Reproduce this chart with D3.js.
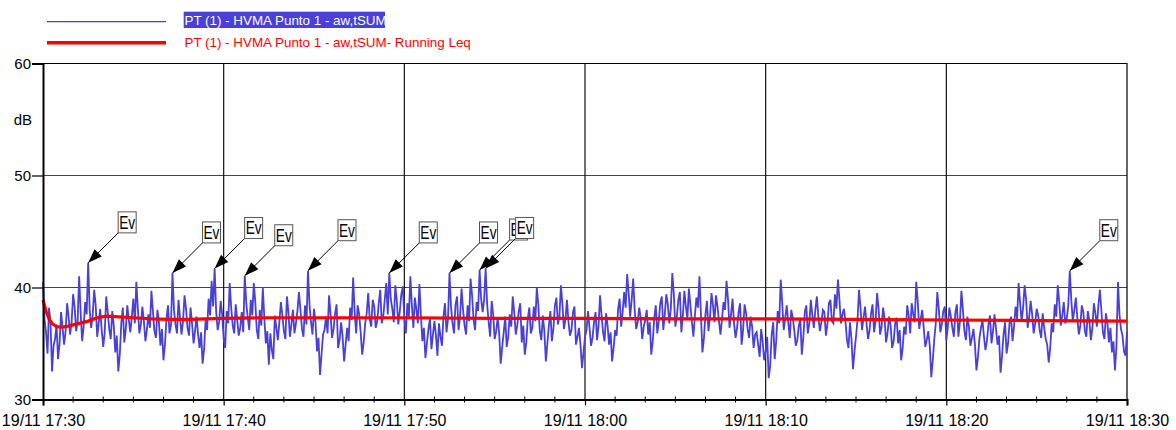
<!DOCTYPE html>
<html>
<head>
<meta charset="utf-8">
<script src="https://cdn.jsdelivr.net/npm/d3@7"></script>
<style>
body { margin: 0; background: #fff; }
svg { display: block; font-family: Arial, "Liberation Sans", sans-serif; }
</style>
</head>
<body>
<div id="chart"></div>
<script>
'use strict';

// series names as shown in the legend
var seriesNames = ['PT (1) - HVMA Punto 1 - aw,tSUM', 'PT (1) - HVMA Punto 1 - aw,tSUM- Running Leq'];

// blue trace (dB): one value on every 10 s mark ...
var startTime = new Date(2019, 10, 19, 17, 30, 0);
var stepSeconds = 10;
var levels1730 = [40.5, 36.0, 38.2, 32.5, 35.4, 33.6, 37.8, 34.9, 38.6, 35.8, 39.4, 36.1, 41.0, 35.2, 38.7, 42.2, 36.4, 39.8, 35.6, 38.1,
                  34.7, 39.2, 36.3, 37.9, 34.2, 32.5, 36.8, 35.1, 38.4, 36.0, 39.0, 40.5, 35.9, 38.3, 35.2, 37.6, 39.7, 36.1, 38.0, 34.8,
                  33.5, 37.2, 35.9, 41.3, 36.7, 38.9, 35.8, 39.3, 36.4, 38.2, 35.0, 37.4, 34.6, 33.2, 37.1, 39.0, 40.6, 41.7, 36.2, 38.8];
var levels1740 = [35.4, 37.9, 40.4, 36.6, 38.5, 35.7, 37.8, 41.05, 37.3, 38.9, 40.4, 36.2, 38.0, 40.0, 35.0, 33.1, 34.4, 37.5, 35.3, 38.7,
                  36.1, 39.2, 35.6, 38.0, 36.8, 39.6, 36.3, 38.4, 41.5, 36.9, 38.1, 34.3, 32.2, 35.8, 37.4, 39.3, 35.5, 37.7, 34.6, 36.9,
                  33.4, 36.4, 38.2, 40.9, 35.9, 37.6, 34.0, 36.8, 39.5, 36.5, 38.3, 37.0, 39.8, 37.4, 40.4, 41.3, 38.1, 40.2, 36.7, 39.4];
var levels1750 = [37.2, 38.6, 41.0, 36.4, 38.0, 40.3, 35.2, 33.7, 36.3, 34.5, 37.0, 33.9, 35.6, 37.4, 36.0, 41.3, 36.8, 38.5, 36.2, 39.9,
                  36.6, 38.4, 40.8, 37.1, 38.7, 41.56, 37.8, 41.7, 36.9, 38.8, 35.4, 37.3, 33.2, 36.0, 34.7, 37.6, 39.2, 35.8, 37.9, 35.1,
                  34.0, 37.2, 35.9, 38.3, 40.0, 36.1, 37.5, 33.4, 36.6, 35.2, 38.4, 36.7, 40.2, 36.3, 38.9, 35.7, 37.8, 34.9, 36.4, 32.8];
var levels1800 = [35.6, 37.9, 34.8, 36.9, 35.3, 39.3, 36.0, 37.7, 34.9, 33.4, 36.2, 38.1, 36.5, 39.6, 41.2, 37.4, 40.8, 36.3, 38.2, 35.4,
                  37.1, 35.8, 34.0, 37.3, 35.9, 38.6, 36.2, 39.4, 36.8, 41.3, 36.5, 38.9, 36.0, 39.7, 37.2, 38.4, 35.6, 39.1, 41.0, 34.2,
                  37.6, 36.1, 39.5, 36.9, 38.3, 35.8, 38.7, 40.6, 36.4, 39.0, 35.5, 37.8, 34.9, 38.5, 36.3, 37.4, 34.6, 36.0, 33.8, 35.2];
var levels1810 = [34.3, 31.9, 35.8, 33.6, 37.9, 40.7, 36.2, 38.4, 35.5, 37.3, 34.8, 36.6, 34.0, 37.8, 35.9, 38.9, 36.4, 39.2, 36.1, 38.0,
                  35.7, 38.6, 37.0, 39.4, 40.7, 36.8, 38.1, 35.3, 36.9, 32.7, 35.6, 39.8, 36.2, 38.3, 35.4, 37.7, 36.0, 39.5, 35.8, 38.2,
                  35.1, 37.4, 34.6, 36.8, 35.0, 33.5, 36.5, 38.4, 35.9, 37.6, 40.5, 36.3, 38.0, 34.7, 36.1, 32.0, 35.4, 39.6, 36.0, 37.9];
var levels1820 = [35.3, 38.2, 36.4, 37.8, 35.6, 39.7, 36.1, 37.4, 34.8, 36.3, 32.6, 35.5, 37.1, 34.4, 36.7, 35.0, 37.6, 34.9, 32.4, 35.8,
                  34.1, 36.9, 35.2, 38.3, 40.4, 37.0, 40.2, 36.4, 38.8, 35.9, 38.1, 36.2, 37.7, 35.4, 33.3, 36.8, 38.5, 40.2, 36.6, 38.7,
                  37.2, 41.5, 37.0, 39.1, 35.8, 38.4, 36.1, 37.9, 35.3, 38.6, 36.5, 39.8, 36.0, 37.7, 35.1, 34.2, 32.6, 40.5, 36.3, 34.3,
                  36.0];

// ... and one value half way between (the +5 s readings)
var midLevels1730 = [37.2, 34.1, 36.9, 34.8, 36.7, 35.0, 36.4, 36.1, 37.4, 36.9, 38.3, 37.0, 37.8, 36.5, 37.6, 38.0, 37.5, 38.4, 36.8, 36.2,
                     36.0, 37.8, 35.4, 36.6, 35.7, 34.0, 38.2, 36.3, 37.1, 37.4, 36.8, 38.1, 36.7, 37.0, 36.2, 36.4, 37.9, 35.5, 36.9, 36.3,
                     34.9, 38.4, 36.6, 38.0, 35.9, 37.3, 37.0, 38.1, 35.7, 36.8, 36.1, 35.8, 36.0, 34.5, 36.2, 37.5, 38.3, 37.9, 36.9, 37.6];
var midLevels1740 = [34.6, 36.8, 38.2, 35.9, 37.1, 36.4, 36.0, 38.6, 36.2, 37.5, 38.7, 35.4, 36.6, 37.3, 36.1, 35.9, 33.6, 36.4, 36.9, 37.5,
                     35.4, 37.8, 36.7, 35.9, 37.9, 38.0, 35.6, 36.7, 38.5, 35.8, 36.9, 35.5, 34.0, 36.2, 35.9, 37.6, 36.3, 38.5, 35.3, 35.6,
                     34.9, 35.2, 37.1, 37.8, 38.4, 36.0, 35.1, 37.7, 37.2, 38.9, 36.4, 38.6, 36.8, 38.9, 37.6, 39.0, 36.9, 38.8, 37.9, 40.1];
var midLevels1750 = [35.9, 37.3, 38.4, 39.1, 36.8, 37.5, 36.4, 35.0, 37.2, 35.8, 35.7, 36.8, 34.8, 38.6, 37.2, 38.3, 35.9, 39.2, 37.4, 38.0,
                     35.8, 37.0, 39.3, 36.2, 37.9, 39.0, 38.9, 38.5, 35.6, 37.6, 36.1, 35.9, 34.7, 37.4, 35.6, 36.5, 37.8, 36.6, 38.6, 36.6,
                     35.1, 38.2, 36.4, 37.0, 38.4, 35.3, 36.1, 35.0, 37.9, 36.3, 39.1, 37.4, 38.5, 37.1, 37.0, 36.2, 38.3, 35.6, 34.9, 34.2];
var midLevels1800 = [36.2, 36.4, 35.5, 37.8, 36.6, 37.5, 35.2, 36.6, 36.0, 34.6, 35.7, 39.0, 37.8, 38.2, 39.5, 38.9, 38.0, 36.9, 37.3, 36.5,
                     38.0, 36.9, 35.2, 38.4, 37.0, 39.2, 37.6, 38.5, 38.1, 39.4, 37.4, 39.6, 37.5, 38.3, 39.9, 36.9, 37.5, 38.2, 37.6, 35.5,
                     38.8, 37.3, 38.4, 39.3, 37.0, 37.2, 38.0, 38.9, 37.6, 36.8, 36.4, 38.6, 36.2, 37.7, 35.5, 36.5, 35.8, 34.9, 36.3, 33.5];
var midLevels1810 = [35.6, 33.0, 36.9, 35.2, 36.8, 38.6, 37.3, 36.9, 38.0, 36.2, 35.3, 37.2, 35.5, 38.4, 36.8, 37.5, 38.0, 37.4, 36.9, 37.8,
                     36.7, 38.9, 36.8, 38.1, 38.9, 37.6, 37.0, 34.6, 35.4, 34.3, 37.1, 38.2, 37.3, 36.8, 36.2, 38.5, 37.0, 38.1, 36.5, 37.2,
                     36.0, 36.6, 35.2, 37.3, 36.2, 34.6, 35.8, 37.5, 38.6, 36.9, 38.8, 37.2, 36.4, 35.3, 34.8, 33.5, 36.8, 38.1, 36.7, 38.3];
var midLevels1820 = [36.5, 37.4, 35.6, 38.5, 36.9, 38.0, 35.3, 36.5, 35.5, 34.9, 33.8, 36.4, 35.6, 35.3, 37.5, 36.1, 36.3, 35.7, 33.9, 36.9,
                     35.0, 37.4, 36.6, 37.2, 38.6, 38.2, 38.9, 37.3, 37.6, 36.8, 37.5, 35.5, 36.4, 34.9, 34.6, 36.0, 37.4, 38.7, 37.5, 36.8,
                     38.4, 38.9, 38.0, 37.3, 36.6, 37.8, 35.6, 37.0, 36.4, 37.7, 38.4, 37.9, 35.4, 36.8, 36.4, 35.2, 34.8, 37.6, 35.7, 33.9];

// running Leq (red), seconds from start and level
var leqSeconds = [0, 10, 20, 30, 45, 60, 75, 90, 120, 150, 180, 210, 240, 300, 360, 420, 480, 540, 600, 720,
                  900, 1200, 1500, 1800, 2100, 2400, 2700, 3000, 3300, 3600];
var leqValues = [38.9, 37.9, 37.2, 36.8, 36.5, 36.45, 36.5, 36.6, 36.8, 37.0, 37.3, 37.45, 37.4, 37.3, 37.2, 37.15, 37.15, 37.2, 37.25, 37.3,
                 37.3, 37.3, 37.25, 37.25, 37.2, 37.2, 37.15, 37.1, 37.05, 37.0];

// event markers, seconds from start
var eventSeconds = [150, 430, 570, 670, 880, 1150, 1350, 1450, 1470, 3410];
var eventLabel = 'Ev';

var yTicks = [30, 40, 50, 60];
var yGrid = [40, 50];
var yLabel = 'dB';

var myApp = {};

myApp.w = 1176;
myApp.h = 430;
myApp.plot = {left: 43, right: 1127, top: 63.5, bottom: 399.5};
myApp.blue = '#4840d8';
myApp.red = '#ff0000';

myApp.secToDate = function(s) {
    return new Date(startTime.getTime() + s * 1000);
};

myApp.buildBlue = function(levels, mids) {
    var out = [];
    levels.forEach(function(v, i) {
        out.push({t: myApp.secToDate(i * stepSeconds), v: v});
        if (i < mids.length) {
            out.push({t: myApp.secToDate(i * stepSeconds + stepSeconds / 2), v: mids[i]});
        }
    });
    return out;
};

myApp.run = function() {
    var svg = d3.select('#chart').append('svg')
        .attr('width', myApp.w)
        .attr('height', myApp.h);

    var p = myApp.plot;
    var blueValues = [].concat(levels1730, levels1740, levels1750, levels1800, levels1810, levels1820);
    var blueMids = [].concat(midLevels1730, midLevels1740, midLevels1750, midLevels1800, midLevels1810, midLevels1820);
    var blueData = myApp.buildBlue(blueValues, blueMids);
    var leqData = leqValues.map(function(v, i) {
        return {t: myApp.secToDate(leqSeconds[i]), v: v};
    });

    var x = d3.scaleTime()
        .domain([startTime, myApp.secToDate(3600)])
        .range([p.left, p.right]);
    var y = d3.scaleLinear()
        .domain([30, 60])
        .range([p.bottom, p.top]);

    // grid
    var majors = x.ticks(d3.timeMinute.every(10));
    svg.append('g').selectAll('line')
        .data(yGrid).enter().append('line')
        .attr('x1', p.left).attr('x2', p.right)
        .attr('y1', function(d) { return y(d); })
        .attr('y2', function(d) { return y(d); })
        .style('stroke', '#444').style('stroke-width', 1.2);
    svg.append('g').selectAll('line')
        .data(majors.slice(1, -1)).enter().append('line')
        .attr('x1', function(d) { return x(d); })
        .attr('x2', function(d) { return x(d); })
        .attr('y1', p.top).attr('y2', p.bottom)
        .style('stroke', '#111').style('stroke-width', 1.2);

    // frame top and right
    svg.append('path')
        .attr('d', 'M' + p.left + ',' + p.top + 'H' + p.right + 'V' + p.bottom)
        .style('fill', 'none').style('stroke', '#000').style('stroke-width', 1.2);

    // minor ticks every 100 s
    var minorSecs = d3.range(0, 3601, 100).filter(function(s) { return s % 600 !== 0; });
    svg.append('g').selectAll('line')
        .data(minorSecs).enter().append('line')
        .attr('x1', function(d) { return x(myApp.secToDate(d)); })
        .attr('x2', function(d) { return x(myApp.secToDate(d)); })
        .attr('y1', p.bottom - 3).attr('y2', p.bottom + 3)
        .style('stroke', '#000').style('stroke-width', 1);

    // series
    var line = d3.line()
        .x(function(d) { return x(d.t); })
        .y(function(d) { return y(d.v); });

    svg.append('path')
        .datum(blueData)
        .attr('d', line)
        .style('fill', 'none')
        .style('stroke', myApp.blue)
        .style('stroke-width', 1.8)
        .style('stroke-linejoin', 'miter');

    svg.append('path')
        .datum(leqData)
        .attr('d', line)
        .style('fill', 'none')
        .style('stroke', myApp.red)
        .style('stroke-width', 3.2);

    // axes
    var yAxis = svg.append('g')
        .attr('transform', 'translate(' + p.left + ',0)')
        .call(d3.axisLeft(y).tickValues(yTicks).tickSize(11).tickPadding(1));
    var xAxis = svg.append('g')
        .attr('transform', 'translate(0,' + p.bottom + ')')
        .call(d3.axisBottom(x).tickValues(majors).tickSize(6).tickPadding(9)
            .tickFormat(d3.timeFormat('%d/%m %H:%M')));

    [yAxis, xAxis].forEach(function(ax) {
        ax.select('.domain').style('stroke', '#000').style('stroke-width', 2);
        ax.selectAll('.tick line').style('stroke', '#000').style('stroke-width', 1.2);
        ax.selectAll('text').style('fill', '#000').style('font-family', 'Arial, "Liberation Sans", sans-serif');
    });
    yAxis.selectAll('text').style('font-size', '15px');
    xAxis.selectAll('text').style('font-size', '16px');

    svg.append('text')
        .attr('x', 32).attr('y', 125)
        .attr('text-anchor', 'end')
        .style('font-size', '15px')
        .text(yLabel);

    // event markers
    var ev = svg.append('g').selectAll('g')
        .data(eventSeconds).enter().append('g')
        .attr('transform', function(d) {
            return 'translate(' + x(myApp.secToDate(d)) + ',' + y(blueValues[d / stepSeconds]) + ')';
        });
    ev.append('line')
        .attr('x1', 0).attr('y1', 0).attr('x2', 30).attr('y2', -30)
        .style('stroke', '#000').style('stroke-width', 1);
    ev.append('path')
        .attr('d', 'M0,0L6.4,-13.6L13.6,-6.4Z')
        .style('fill', '#000');
    ev.append('rect')
        .attr('x', 30).attr('y', -51).attr('width', 18).attr('height', 21)
        .style('fill', '#fff').style('stroke', '#555').style('stroke-width', 1);
    ev.append('text')
        .attr('x', 31).attr('y', -34)
        .attr('textLength', 16).attr('lengthAdjust', 'spacingAndGlyphs')
        .style('font-size', '18px')
        .text(eventLabel);

    // legend
    var lg = svg.append('g');
    lg.append('line')
        .attr('x1', 47).attr('x2', 166).attr('y1', 21.7).attr('y2', 21.7)
        .style('stroke', myApp.blue).style('stroke-width', 1.2);
    lg.append('rect')
        .attr('x', 183.7).attr('y', 11.7).attr('width', 201.3).attr('height', 16.3)
        .style('fill', myApp.blue);
    lg.append('text')
        .attr('x', 184.5).attr('y', 24.5)
        .style('font-size', '13.4px').style('fill', '#fff')
        .text(seriesNames[0]);
    lg.append('line')
        .attr('x1', 47).attr('x2', 166).attr('y1', 42.7).attr('y2', 42.7)
        .style('stroke', myApp.red).style('stroke-width', 3.5);
    lg.append('text')
        .attr('x', 184.5).attr('y', 47)
        .style('font-size', '13.4px').style('fill', myApp.red)
        .text(seriesNames[1]);
};

myApp.run();
</script>
</body>
</html>
